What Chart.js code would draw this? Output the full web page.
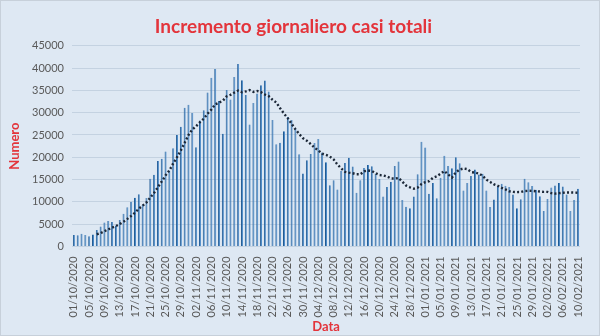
<!DOCTYPE html>
<html>
<head>
<meta charset="utf-8">
<script src="https://cdn.jsdelivr.net/npm/chart.js@4.4.1/dist/chart.umd.min.js"></script>
<style>
    html, body { margin: 0; padding: 0; }
    body { width: 600px; height: 336px; background: #dee8f3; overflow: hidden; }
    #wrap { position: relative; width: 600px; height: 336px; box-sizing: border-box; border: 1px solid #c7d0da; }
    canvas { display: block; }
</style>
</head>
<body>
<div id="wrap"><canvas id="chart" width="598" height="334"></canvas></div>
<script>
// Daily increase of total cases, 01/10/2020 -> 10/02/2021
const firstDay = [2020, 9, 1];           // year, month (0-based), day
const labelEvery = 4;                    // one date label every 4 days
const trendPeriod = 7;                   // moving average period of the dotted line
const yTicks = [0, 5000, 10000, 15000, 20000, 25000, 30000, 35000, 40000, 45000];

const octCases = [2548, 2499, 2844, 2578, 2257, 2677, 3678, 4458, 5372, 5724,
    5456, 4619, 5901, 7332, 8804, 10010, 10925, 11705, 9338, 10874,
    15199, 16079, 19143, 19644, 21273, 17012, 21994, 24991, 26831, 31084, 31758];
const novCases = [29907, 22253, 28244, 30550, 34505, 37809, 39811, 32616, 25271, 35098,
    32961, 37978, 40902, 37255, 33979, 27354, 32191, 34283, 36176, 37242,
    34767, 28337, 22930, 23232, 25853, 29003, 28352, 26323, 20648, 16377];
const decCases = [19350, 20709, 23225, 24099, 21052, 18887, 13720, 14842, 12756, 16999,
    18727, 19903, 17938, 12030, 14844, 17572, 18236, 17992, 16308, 15104,
    11212, 13318, 14522, 18040, 19037, 10407, 8913, 8585, 11224, 16202, 23477];
const janCases = [22211, 11831, 14245, 10800, 15378, 20331, 18020, 17533, 19978, 18627,
    12532, 14242, 15774, 17246, 16146, 16310, 12545, 8824, 10497, 13571,
    14078, 13633, 13331, 11629, 8561, 10593, 15204, 14372, 13574, 12715, 11252];
const febCases = [7925, 10630, 13189, 13659, 14218, 13442, 11641, 7970, 10404, 12956];

const dailyCases = [...octCases, ...novCases, ...decCases, ...janCases, ...febCases];

// dd/mm/yyyy label for every day in the series
const pad = n => String(n).padStart(2, '0');
const days = dailyCases.map((_, i) => {
    const d = new Date(firstDay[0], firstDay[1], firstDay[2] + i);
    return `${pad(d.getDate())}/${pad(d.getMonth() + 1)}/${d.getFullYear()}`;
});

// moving average trendline (same as the spreadsheet one)
const movingAvg = dailyCases.map((_, i) => {
    if (i < trendPeriod - 1) return null;
    let sum = 0;
    for (let k = i - trendPeriod + 1; k <= i; k++) sum += dailyCases[k];
    return sum / trendPeriod;
});

const red = '#e3343b';
const grey = '#595959';
const font = "Lato, 'Open Sans', sans-serif";

new Chart(document.getElementById('chart'), {
    data: {
        labels: days,
        datasets: [
            {
                type: 'line',
                data: movingAvg,
                borderColor: '#1c2838',
                borderWidth: 2.4,
                borderDash: [2, 2.2],
                borderCapStyle: 'butt',
                pointRadius: 0,
                fill: false,
                order: 0
            },
            {
                type: 'bar',
                data: dailyCases,
                backgroundColor: '#4787c6',
                borderColor: '#205a93',
                borderWidth: { left: 1, right: 0, top: 0, bottom: 0 },
                borderSkipped: false,
                barPercentage: 0.52,
                categoryPercentage: 1,
                order: 1
            }
        ]
    },
    options: {
        responsive: false,
        animation: false,
        devicePixelRatio: 1,
        layout: { padding: { top: 8, right: 19, bottom: 0, left: 6 } },
        plugins: {
            legend: { display: false },
            tooltip: { enabled: false },
            title: {
                display: true,
                text: 'Incremento giornaliero casi totali',
                color: red,
                font: { family: font, size: 19, weight: 'bold' },
                padding: { top: 6, bottom: 8 }
            }
        },
        scales: {
            x: {
                grid: { display: false },
                border: { display: false },
                ticks: {
                    autoSkip: false,
                    minRotation: 90,
                    maxRotation: 90,
                    color: grey,
                    padding: 2,
                    font: { family: font, size: 11 },
                    callback: (v, i) => (i % labelEvery === 0 ? days[i] : '')
                },
                title: {
                    display: true,
                    text: 'Data',
                    color: red,
                    font: { family: font, size: 13, weight: 'bold' },
                    padding: { top: 0, bottom: 0 }
                }
            },
            y: {
                min: yTicks[0],
                max: yTicks[yTicks.length - 1],
                afterBuildTicks: axis => { axis.ticks = yTicks.map(v => ({ value: v })); },
                afterFit: axis => { axis.width = 65; },
                grid: { color: 'rgba(170,188,208,0.5)', drawTicks: false },
                border: { display: false },
                ticks: {
                    color: grey,
                    padding: 8,
                    font: { family: font, size: 11 },
                    callback: v => String(v)
                },
                title: {
                    display: true,
                    text: 'Numero',
                    color: red,
                    font: { family: font, size: 13, weight: 'bold' },
                    padding: { top: 0, bottom: 2 }
                }
            }
        }
    }
});
</script>
</body>
</html>
